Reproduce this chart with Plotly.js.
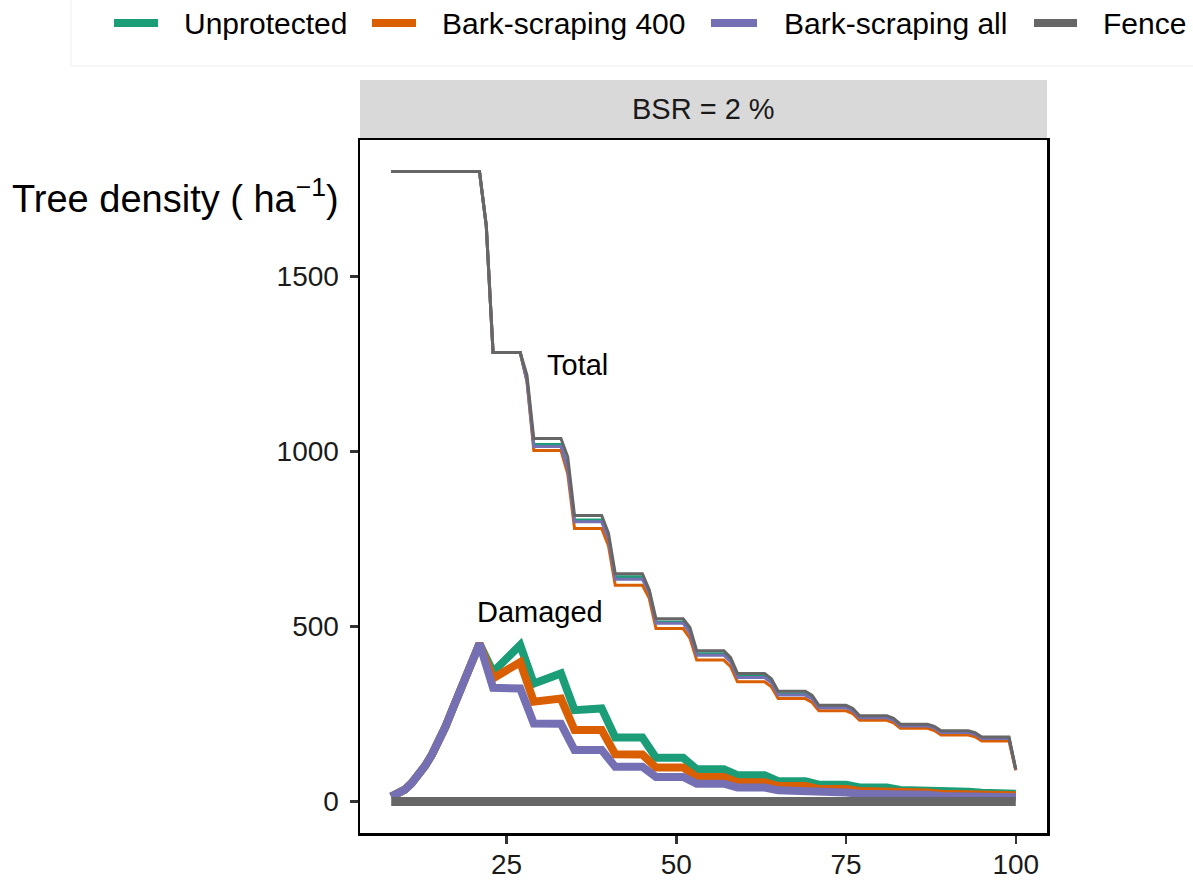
<!DOCTYPE html>
<html>
<head>
<meta charset="utf-8">
<script src="https://cdn.plot.ly/plotly-3.0.1.min.js"></script>
<style>html,body{margin:0;padding:0;background:#fff;}#chart{width:1193px;height:880px;}</style>
</head>
<body>
<div id="chart"></div>
<script>
// ---- data ----
const seriesNames = ["Unprotected", "Bark-scraping 400", "Bark-scraping all", "Fence"];
const seriesColors = ["#1B9E77", "#D95F02", "#7570B3", "#666666"];
const panelLabel = "BSR = 2 %";
const xTicks = [25, 50, 75, 100];
const yTicks = [0, 500, 1000, 1500];

// total tree density (thin lines)
const ageTotal = [8,21,22,23,27,28,29,33,34,35,39,40,41,45,46,47,51,52,53,57,58,59,63,64,65,69,70,71,75,76,77,81,82,83,87,88,89,93,94,95,99,100];
const totalUnprotected = [1800,1800,1645,1283,1283,1205,1020,1020,954,804,804,755,642,642,603,513,513,486,422,422,403,358,358,343,308,308,296,271,271,262,242,242,235,218,218,212,199,199,194,182,182,91];
const totalBS400 = [1800,1800,1645,1283,1283,1199,1003,1003,936,780,780,731,618,618,581,494,494,467,404,404,385,342,342,328,294,294,283,259,259,251,232,232,225,209,209,203,190,190,185,173,173,89];
const totalBSall = [1800,1800,1645,1283,1283,1202,1014,1014,950,799,799,750,635,635,597,509,509,482,418,418,399,354,354,339,304,304,293,268,268,259,239,239,232,216,216,210,197,197,192,180,180,91];
const totalFence = [1800,1800,1645,1283,1283,1218,1037,1037,985,817,817,767,651,651,605,522,522,497,431,431,411,366,366,351,315,315,303,275,275,266,245,245,238,221,221,215,202,202,197,184,184,92];

// damaged tree density (thick lines)
const ageDamaged = [8,9,10,11,12,13,14,15,16,17,18,19,20,21,23,27,29,33,35,39,41,45,47,51,53,57,59,63,65,69,71,75,77,81,83,87,89,93,95,99,100];
const damagedUnprotected = [14,22,34,52,75,102,134,171,214,262,310,358,404,451,370,447,337,366,261,266,183,183,125,125,92,92,75,75,58,58,48,48,40,40,33,33,28,28,25,25,22];
const damagedBS400 = [14,22,34,52,75,102,134,171,214,262,310,358,404,451,352,398,285,294,204,204,135,134,97,97,70,70,55,55,44,44,36,36,30,30,26,26,22,22,20,20,18];
const damagedBSall = [14,22,34,52,75,102,134,171,214,262,310,358,404,451,325,323,223,222,147,147,99,99,70,70,51,51,40,40,32,31,26,26,22,22,19,19,16,16,14,14,12];
const damagedFence = [0,0,0,0,0,0,0,0,0,0,0,0,0,0,0,0,0,0,0,0,0,0,0,0,0,0,0,0,0,0,0,0,0,0,0,0,0,0,0,0,0];

// ---- build traces ----
const totals = [totalUnprotected, totalBS400, totalBSall, totalFence];
const damaged = [damagedUnprotected, damagedBS400, damagedBSall, damagedFence];
const damagedWidths = [8, 8, 8, 9];
const traces = [];
totals.forEach((ys, i) => traces.push({
  x: ageTotal, y: ys, type: "scatter", mode: "lines", name: seriesNames[i] + " (total)",
  line: {color: seriesColors[i], width: 3}, showlegend: false, hoverinfo: "x+y"
}));
damaged.forEach((ys, i) => traces.push({
  x: ageDamaged, y: ys, type: "scatter", mode: "lines", name: seriesNames[i],
  line: {color: seriesColors[i], width: damagedWidths[i]}, showlegend: false, hoverinfo: "x+y"
}));

// ---- layout ----
const FONT = "Liberation Sans, Arial, Helvetica, sans-serif";
const L = 360, R = 1047, T = 140, B = 833;
const PW = R - L, PH = B - T;
const px = v => (v - L) / PW;          // pixel x -> paper x
const py = v => 1 + (T - v) / PH;      // pixel y -> paper y

const shapes = [
  // faint legend box edge
  {type: "line", xref: "paper", yref: "paper", x0: px(71), x1: px(71), y0: py(-2), y1: py(66), line: {color: "#efefef", width: 1}},
  {type: "line", xref: "paper", yref: "paper", x0: px(71), x1: px(1200), y0: py(66), y1: py(66), line: {color: "#efefef", width: 1}},
  // strip
  {type: "rect", xref: "paper", yref: "paper", x0: 0, x1: 1, y0: py(139), y1: py(80), fillcolor: "#D9D9D9", line: {width: 0}, layer: "below"}
];
const annotations = [
  {xref: "paper", yref: "paper", x: 0.5, y: (py(139) + py(80)) / 2, text: panelLabel, showarrow: false,
   font: {family: FONT, size: 29, color: "#1a1a1a"}, xanchor: "center", yanchor: "middle"},
  {xref: "paper", yref: "paper", x: px(10), y: py(196), text: "Tree density ( ha<sup>−1</sup>)", showarrow: false,
   font: {family: FONT, size: 38, color: "#000"}, xanchor: "left", yanchor: "middle"},
  {xref: "x", yref: "y", x: 35.4, y: 1247, text: "Total", showarrow: false,
   font: {family: FONT, size: 29, color: "#000"}, xanchor: "center", yanchor: "middle"},
  {xref: "x", yref: "y", x: 29.9, y: 541, text: "Damaged", showarrow: false,
   font: {family: FONT, size: 29, color: "#000"}, xanchor: "center", yanchor: "middle"}
];
// manual legend (ggplot-style keys)
const keyX = [[114, 158], [372, 416], [711, 757], [1034, 1077]];
const textX = [182, 440, 782, 1101];
seriesNames.forEach((n, i) => {
  shapes.push({type: "rect", xref: "paper", yref: "paper", x0: px(keyX[i][0]), x1: px(keyX[i][1]),
    y0: py(27), y1: py(19), fillcolor: seriesColors[i], line: {width: 0}});
  annotations.push({xref: "paper", yref: "paper", x: px(textX[i]), y: py(23), text: n, showarrow: false,
    font: {family: FONT, size: 30, color: "#000"}, xanchor: "left", yanchor: "middle"});
});

const axisCommon = {
  showgrid: false, zeroline: false, showline: true, linecolor: "#000", linewidth: 2.5, mirror: true,
  ticks: "outside", ticklen: 8, tickwidth: 2.5, tickcolor: "#333",
  tickfont: {family: FONT, size: 28, color: "#1a1a1a"}
};
const layout = {
  width: 1193, height: 880,
  margin: {l: L, r: 1193 - R, t: T, b: 880 - B, pad: 0},
  paper_bgcolor: "#fff", plot_bgcolor: "#fff",
  showlegend: false,
  xaxis: Object.assign({}, axisCommon, {range: [3.4, 104.6], tickvals: xTicks, ticktext: xTicks.map(String), ticklabelstandoff: -3}),
  yaxis: Object.assign({}, axisCommon, {range: [-90, 1890], tickvals: yTicks, ticktext: yTicks.map(String), ticklabelstandoff: 5}),
  shapes: shapes,
  annotations: annotations
};
Plotly.newPlot("chart", traces, layout, {staticPlot: true, displayModeBar: false});
</script>
</body>
</html>
